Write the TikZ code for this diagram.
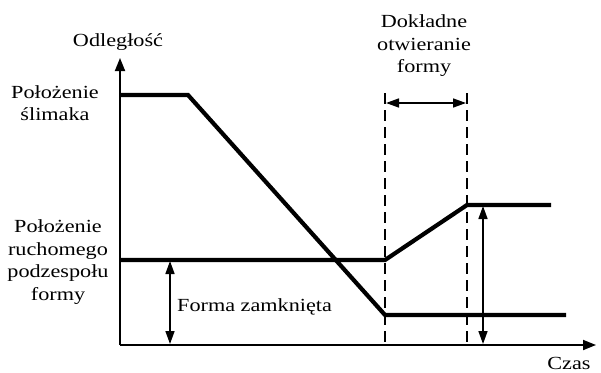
\documentclass[tikz,border=0pt]{standalone}
\usepackage{fontspec}
\setmainfont[FakeStretch=1.2]{Liberation Serif}
\usetikzlibrary{arrows.meta}
\begin{document}
\begin{tikzpicture}[x=1pt,y=-1pt,
  axis/.style={line width=1.8pt,-{Triangle[length=13pt,width=10pt]}},
  curve/.style={line width=4.2pt,line join=miter},
  guide/.style={line width=2.6pt,dash pattern=on 11pt off 6pt},
  dim/.style={line width=1.6pt,{Triangle[length=13pt,width=9pt]}-{Triangle[length=13pt,width=9pt]}},
  lab/.style={font=\fontsize{18.5}{22.5}\selectfont,align=center,inner sep=0pt}]
\useasboundingbox (0,0) rectangle (601,372);
% axes
\coordinate (O) at (120,345);
\coordinate (Ytop) at (120,58);
\coordinate (Xend) at (596,345);
\draw[axis] (O) -- (Ytop);
\draw[axis] (O) -- (Xend);
% screw curve
\coordinate (s0) at (120,95);
\coordinate (s1) at (188,95);
\coordinate (s2) at (385,315);
\coordinate (s3) at (566,315);
\draw[curve] (s0) -- (s1) -- (s2) -- (s3);
% mould curve
\coordinate (m0) at (120,260);
\coordinate (m1) at (385,260);
\coordinate (m2) at (467,205);
\coordinate (m3) at (551,205);
\draw[curve] (m0) -- (m1) -- (m2) -- (m3);
% dashed guides
\coordinate (d1t) at (385,93);
\coordinate (d1b) at (385,345);
\coordinate (d2t) at (467,93);
\coordinate (d2b) at (467,345);
\draw[guide] (d1t) -- (d1b);
\draw[guide] (d2t) -- (d2b);
\coordinate (a1) at (386,103);
\coordinate (a2) at (466,103);
\draw[dim] (a1) -- (a2);
% dimension arrows
\coordinate (l1) at (170,261);
\coordinate (l2) at (170,344);
\draw[dim] (l1) -- (l2);
\coordinate (r1) at (483,206);
\coordinate (r2) at (483,344);
\draw[dim] (r1) -- (r2);
% labels
\node[lab] (ylab) at (118,42) {Odległość};
\node[lab] (xlab) at (569,363) {Czas};
\node[lab] (screw) at (55,103) {Położenie\\ślimaka};
\node[lab] (mould) at (58,262) {Położenie\\ruchomego\\podzespołu\\formy};
\node[lab,anchor=west] (closed) at (177,307) {Forma zamknięta};
\node[lab] (open) at (424,46) {Dokładne\\otwieranie\\formy};
\end{tikzpicture}
\end{document}
